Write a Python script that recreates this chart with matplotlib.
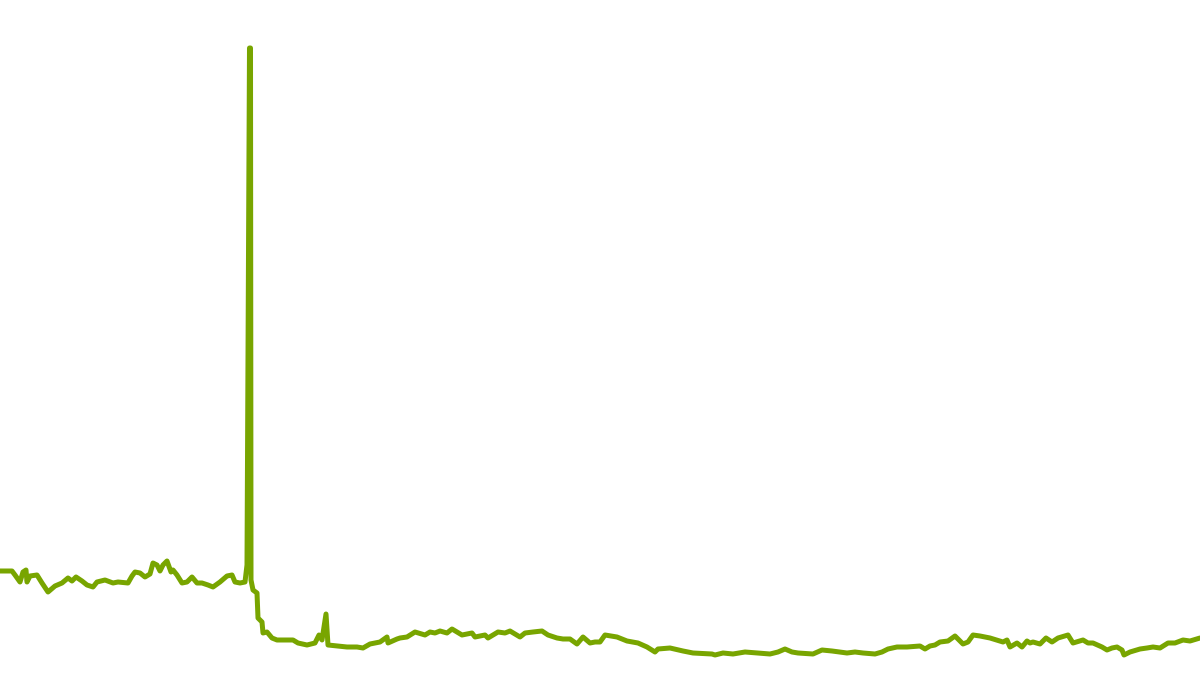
import matplotlib
matplotlib.use("Agg")
import matplotlib.pyplot as plt

# day index and value series
days = [0, 12, 15, 20, 23, 26, 27, 30, 37, 42, 48, 55, 62, 68, 72, 76, 82, 87, 93, 97,
        105, 113, 118, 128, 132, 135, 140, 145, 150, 153, 157, 160, 163, 167, 171, 173,
        177, 182, 187, 192, 197, 202, 208, 213, 220, 227, 232, 235, 240, 245, 247, 249.5,
        250.5, 251, 253, 257, 258, 262, 263, 267, 272, 277, 283, 293, 298, 307, 315, 319,
        322, 326, 328, 337, 347, 357, 363, 370, 380, 387, 388, 397,
        400, 407, 415, 425, 430, 435, 440, 447, 452, 457, 462, 472, 475, 485, 488, 498,
        505, 510, 520, 525, 533, 542, 548, 557, 563, 570, 577, 583, 590, 595, 600, 605,
        617, 627, 638, 647, 655, 658, 670, 683, 693, 712, 715, 723, 733, 745, 757, 770,
        778, 785, 792, 798,
        813, 822, 832, 847, 855, 863, 875, 882, 888, 897, 907, 920, 925, 930, 935, 940,
        948, 955, 963, 968, 973, 980, 990, 1003, 1007, 1010, 1017, 1022, 1027, 1030,
        1033, 1040, 1046, 1052, 1058, 1068, 1073, 1083, 1088, 1093, 1102, 1107, 1112,
        1117, 1122, 1124, 1130, 1140, 1147, 1153, 1160, 1168, 1175, 1183, 1190, 1200]

pixel_rows = [571, 571, 575, 582, 572, 570, 582, 576, 575, 583, 592, 586, 583, 578, 581,
              577, 581, 585, 587, 582, 580, 583, 582, 583, 576, 572, 573, 577, 574, 563,
              565, 571, 565, 561, 572, 570, 575, 583, 582, 577, 583, 583, 585, 587, 582,
              576, 575, 582, 583, 582, 565, 48, 48, 580, 590, 593, 618, 622, 633, 632, 638,
              640, 640, 640, 643, 645, 643, 635, 640, 614, 645, 646, 647, 647, 648, 644,
              642, 637, 643, 639,
              638, 637, 632, 635, 632, 633, 631, 633, 629, 632, 635, 633, 637, 635, 638,
              632, 633, 631, 637, 633, 632, 631, 635, 638, 639, 639, 644, 637, 643, 642,
              642, 635, 637, 641, 643, 647, 652, 649, 648, 651, 653, 654, 655, 653, 654,
              652, 653, 654, 652, 649, 652, 653,
              654, 650, 651, 653, 652, 653, 654, 652, 649, 647, 647, 646, 649, 646, 645,
              642, 641, 636, 644, 642, 635, 636, 638, 642, 640, 647, 643, 647, 641, 643,
              642, 644, 638, 642, 638, 635, 643, 640, 643, 643, 647, 650, 648, 647, 650,
              655, 652, 649, 648, 647, 648, 643, 643, 640, 641, 638]

values = [675 - p for p in pixel_rows]

fig = plt.figure(figsize=(12, 6.75), dpi=100)
ax = fig.add_axes([0, 0, 1, 1])
ax.plot(days, values, color="#78a500", linewidth=3.6, solid_joinstyle="round",
        solid_capstyle="round")
ax.set_xlim(0, 1200)
ax.set_ylim(0, 675)
ax.axis("off")
fig.savefig("out.png", dpi=100)
